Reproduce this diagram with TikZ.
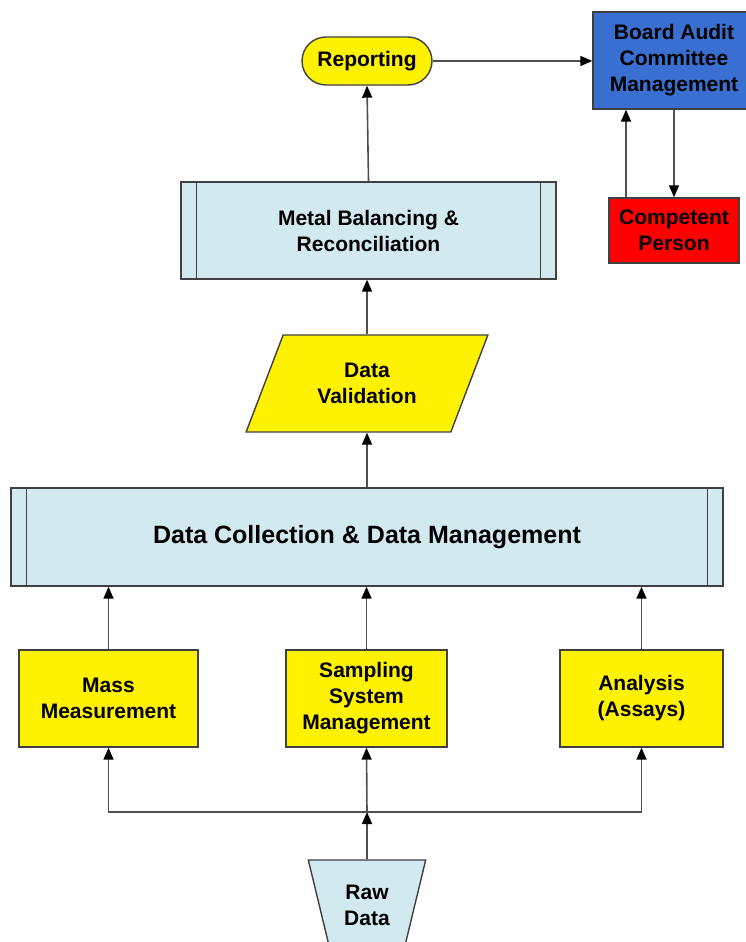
\documentclass[tikz,border=0pt]{standalone}
\usepackage{fontspec}
\setmainfont{Liberation Sans}
\usetikzlibrary{shapes.geometric,arrows.meta}
\definecolor{paleblue}{HTML}{D3E9F0}
\definecolor{boardblue}{HTML}{3A6FD2}
\definecolor{edge}{HTML}{404040}
\definecolor{wire}{HTML}{505050}

\begin{document}
\begin{tikzpicture}[x=1pt,y=-1pt,
  box/.style={rectangle,draw=edge,line width=1.4pt,align=center,
    font=\bfseries\fontsize{21}{26}\selectfont},
  flow/.style={draw=wire,line width=1.6pt,-{Triangle[length=12pt,width=10pt,color=black]}}]
\useasboundingbox (0,0) rectangle (746,942);

\node[box,fill=yellow,rounded corners=24pt,minimum width=130pt,minimum height=48pt] (report) at (367,61) {Reporting};
\node[box,fill=boardblue,minimum width=162pt,minimum height=97pt] (board) at (674,60.5) {Board Audit\\Committee\\Management};
\node[box,fill=red,minimum width=130pt,minimum height=65pt] (person) at (674,230.5) {Competent\\Person};
\node[box,fill=paleblue,minimum width=375pt,minimum height=97pt] (metal) at (368.5,230.5) {Metal Balancing \&\\Reconciliation};
\node[box,trapezium,trapezium left angle=63.7,trapezium right angle=116.3,trapezium stretches=true,
  fill=yellow,minimum width=242pt,minimum height=97pt] (valid) at (367,383.5) {Data\\Validation};
\node[box,fill=paleblue,minimum width=712pt,minimum height=98pt,font=\bfseries\fontsize{25}{28}\selectfont] (collect) at (367,537) {Data Collection \& Data Management};
\node[box,fill=yellow,minimum width=179pt,minimum height=97pt] (mass) at (108.5,698.5) {Mass\\Measurement};
\node[box,fill=yellow,minimum width=161pt,minimum height=97pt] (sampling) at (366.5,698.5) {Sampling\\System\\Management};
\node[box,fill=yellow,minimum width=163pt,minimum height=97pt] (analysis) at (641.5,698.5) {Analysis\\(Assays)};
\node[box,trapezium,shape border rotate=180,trapezium angle=72,trapezium stretches=true,
  fill=paleblue,minimum width=118pt,minimum height=90pt] (raw) at (367,905) {Raw\\Data};
\coordinate (split) at (367,812);

% side bars of the two process boxes
\foreach \n in {metal,collect}
  \draw[edge,line width=1.4pt] ([xshift=16pt]\n.north west) -- ([xshift=16pt]\n.south west)
    ([xshift=-16pt]\n.north east) -- ([xshift=-16pt]\n.south east);

\draw[flow] (raw.north) -- (split);
\draw[flow] (split) -| (mass.south);
\draw[flow] (split) -- (sampling.south);
\draw[flow] (split) -| (analysis.south);
\draw[flow] (mass.north) -- (mass.north |- collect.south);
\draw[flow] (sampling.north) -- (sampling.north |- collect.south);
\draw[flow] (analysis.north) -- (analysis.north |- collect.south);
\draw[flow] (collect.north -| valid.south) -- (valid.south);
\draw[flow] (valid.north) -- (valid.north |- metal.south);
\draw[flow] (metal.north) -- (report.south);
\draw[flow] (report.east) -- (board.west |- report.east);
\draw[flow] (board.south) -- (person.north);
\draw[flow] ([xshift=-48pt]person.north) -- ([xshift=-48pt]person.north |- board.south);
\end{tikzpicture}
\end{document}
